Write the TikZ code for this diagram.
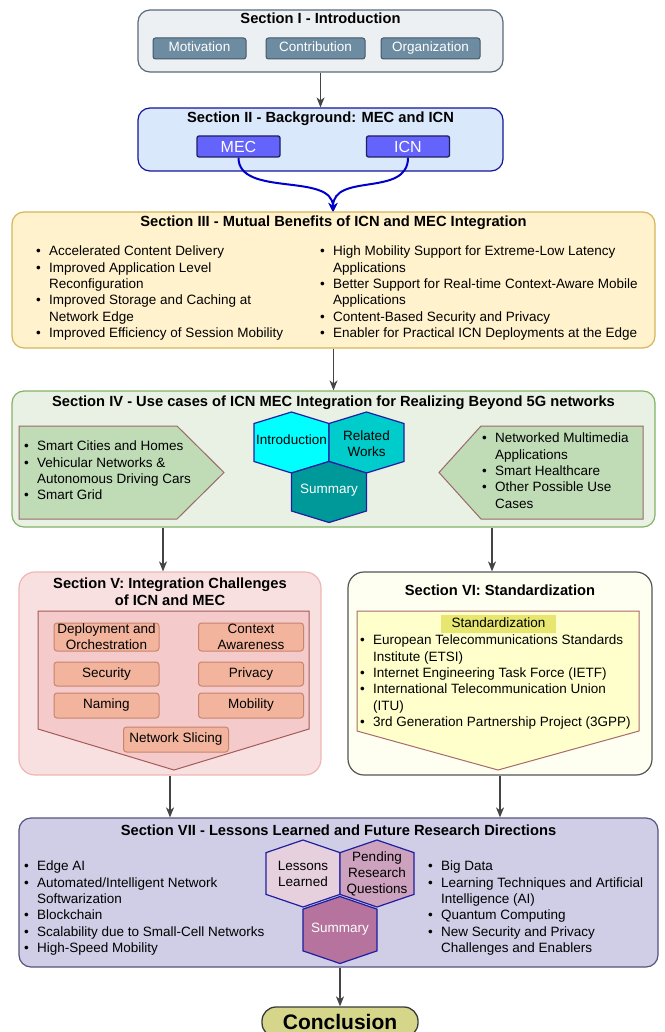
\documentclass[tikz,border=0pt]{standalone}
\usepackage{fontspec}
\setmainfont{Liberation Sans}
\usetikzlibrary{arrows.meta,positioning}

\definecolor{introfill}{HTML}{EDF0F3}
\definecolor{introline}{HTML}{596A7B}
\definecolor{subfill}{HTML}{6D8CA1}
\definecolor{subline}{HTML}{43586A}
\definecolor{bgfill}{HTML}{DAE8FC}
\definecolor{bgline}{HTML}{14149A}
\definecolor{techfill}{HTML}{6464FC}
\definecolor{techline}{HTML}{202060}
\definecolor{benfill}{HTML}{FFF2CC}
\definecolor{benline}{HTML}{D6B656}
\definecolor{usefill}{HTML}{E8F1E3}
\definecolor{useline}{HTML}{82B366}
\definecolor{pentgreen}{HTML}{C0DCB6}
\definecolor{pentline}{HTML}{9A6A6A}
\definecolor{cyanA}{HTML}{00FFFF}
\definecolor{cyanB}{HTML}{00CCCC}
\definecolor{cyanC}{HTML}{009999}
\definecolor{hexline}{HTML}{1F1FA0}
\definecolor{chalfill}{HTML}{F9E0E0}
\definecolor{challine}{HTML}{F0B6B6}
\definecolor{chalinner}{HTML}{F5CACA}
\definecolor{chalinline}{HTML}{A55A5A}
\definecolor{chalsub}{HTML}{F3B49E}
\definecolor{chalsubline}{HTML}{C7846F}
\definecolor{stdfill}{HTML}{FEFEF1}
\definecolor{stdline}{HTML}{555555}
\definecolor{stdinner}{HTML}{FFFFCC}
\definecolor{stdinline}{HTML}{A86A6A}
\definecolor{stdlabel}{HTML}{E6E670}
\definecolor{lesfill}{HTML}{D0CEE6}
\definecolor{lesline}{HTML}{57527F}
\definecolor{hexPa}{HTML}{E6D0DE}
\definecolor{hexPb}{HTML}{CDA2BE}
\definecolor{hexPc}{HTML}{B5739D}
\definecolor{conclfill}{HTML}{D6D68A}
\definecolor{conclline}{HTML}{3A3A3A}
\definecolor{arrowgray}{HTML}{444444}
\definecolor{curveblue}{HTML}{0000CC}

\newcommand{\bitem}{\makebox[13pt][l]{\textbullet}}
\newcommand{\bcont}{\hspace*{13pt}}

\begin{document}
\begin{tikzpicture}[x=1pt,y=-1pt,font=\fontsize{13.5}{16.3}\selectfont]
	\tikzset{
		secbox/.style={draw,rounded corners=12pt,line width=1.2pt,inner sep=0pt},
		sectitle/.style={font=\bfseries\fontsize{14.7}{17}\selectfont,inner sep=0pt,anchor=base},
		subbox/.style={draw,rounded corners=2.5pt,line width=1pt,inner sep=0pt,text height=9.7pt,text depth=2.8pt},
		introsub/.style={subbox,fill=subfill,draw=subline,text=white,minimum height=21pt},
		techbox/.style={draw=techline,fill=techfill,line width=1.3pt,rounded corners=2pt,inner sep=0pt,minimum width=83pt,minimum height=21pt,text=white,font=\fontsize{16}{18}\selectfont,text height=11.5pt,text depth=0pt},
		chalbox/.style={draw=chalsubline,fill=chalsub,line width=1pt,rounded corners=3pt,inner sep=0pt,align=center,minimum width=105pt},
		blist/.style={anchor=north west,inner sep=0pt,align=left},
		hextext/.style={inner sep=0pt,align=center},
		hexdraw/.style={draw=hexline,line width=1.2pt},
		pent/.style={line width=1pt},
		arr/.style={color=arrowgray,line width=1.5pt,-{Stealth[length=10pt,width=8pt,inset=3pt]}},
		blueline/.style={draw=curveblue,line width=2pt,-{Stealth[length=9pt,width=9pt,inset=3pt]}},
		hexa/.pic={\path[pic actions] (0,-30.5) -- (37.5,-19) -- (37.5,19) -- (0,30.5) -- (-37.5,19) -- (-37.5,-19) -- cycle;}
	}
	\useasboundingbox (0,0) rectangle (664,1032);

	\node[secbox,fill=introfill,draw=introline,minimum width=365pt,minimum height=62pt] (secI) at (320.5,41) {};
	\node[sectitle] (titleI) at (320.5,23.8) {Section I - Introduction};
	\node[introsub,minimum width=93pt] (motiv) at (199.5,48.5) {Motivation};
	\node[introsub,minimum width=99pt] (contrib) at (315.5,48.5) {Contribution};
	\node[introsub,minimum width=99pt] (organ) at (430.5,48.5) {Organization};

	\node[secbox,fill=bgfill,draw=bgline,minimum width=365pt,minimum height=63pt] (secII) at (320.5,139.5) {};
	\node[sectitle] (titleII) at (320.5,122.8) {Section II - Background: MEC and ICN};
	\node[techbox] (mec) at (238.5,146.5) {MEC};
	\node[techbox] (icn) at (408,146.5) {ICN};
	\coordinate (merge) at (333,212);
	\draw[blueline] (mec.south) .. controls +(0,40) and +(0,-40) .. (merge);
	\draw[blueline] (icn.south) .. controls +(0,40) and +(0,-40) .. (merge);

	\node[secbox,fill=benfill,draw=benline,minimum width=643pt,minimum height=136pt] (secIII) at (333.5,280) {};
	\node[sectitle] (titleIII) at (333.5,226.8) {Section III - Mutual Benefits of ICN and MEC Integration};
	\node[blist] (benL) at (36,246) {\bitem Accelerated Content Delivery\\
		\bitem Improved Application Level\\
		\bcont Reconfiguration\\
		\bitem Improved Storage and Caching at\\
		\bcont Network Edge\\
		\bitem Improved Efficiency of Session Mobility};
	\node[blist] (benR) at (320,246) {\bitem High Mobility Support for Extreme-Low Latency\\
		\bcont Applications\\
		\bitem Better Support for Real-time Context-Aware Mobile\\
		\bcont Applications\\
		\bitem Content-Based Security and Privacy\\
		\bitem Enabler for Practical ICN Deployments at the Edge};

	\node[secbox,fill=usefill,draw=useline,minimum width=643pt,minimum height=136pt] (secIV) at (333.5,459) {};
	\node[sectitle] (titleIV) at (333.5,406.8) {Section IV - Use cases of ICN MEC Integration for Realizing Beyond 5G networks};
	\draw[pent,fill=pentgreen,draw=pentline] (19,426) -- (177,426) -- (224,472.5) -- (177,519) -- (19,519) -- cycle;
	\draw[pent,fill=pentgreen,draw=pentline] (643,426) -- (481,426) -- (439,472.5) -- (481,519) -- (643,519) -- cycle;
	\node[blist] (useL) at (24,441) {\bitem Smart Cities and Homes\\
		\bitem Vehicular Networks \&\\
		\bcont Autonomous Driving Cars\\
		\bitem Smart Grid};
	\node[blist] (useR) at (482,433) {\bitem Networked Multimedia\\
		\bcont Applications\\
		\bitem Smart Healthcare\\
		\bitem Other Possible Use\\
		\bcont Cases};
	\pic[hexdraw,fill=cyanA] at (291.5,442.5) {hexa};
	\pic[hexdraw,fill=cyanB] at (366.5,442.5) {hexa};
	\pic[hexdraw,fill=cyanC] at (329,492) {hexa};
	\node[hextext] (intro) at (291.5,440) {Introduction};
	\node[hextext] (related) at (366.5,443.5) {Related\\Works};
	\node[hextext,text=white] (summIV) at (329,490) {Summary};

	\node[secbox,rounded corners=16pt,fill=chalfill,draw=challine,minimum width=302pt,minimum height=203pt] (secV) at (170,673.5) {};
	\node[sectitle,anchor=north,align=center] (titleV) at (170,578) {Section V: Integration Challenges\\of ICN and MEC};
	\draw[pent,fill=chalinner,draw=chalinline] (38,611) -- (309,611) -- (309,729) -- (174,770) -- (38,729) -- cycle;
	\node[chalbox,minimum height=28pt] (deploy) at (106.5,637) {Deployment and\\Orchestration};
	\node[chalbox,minimum height=28pt] (context) at (251,637) {Context\\Awareness};
	\node[chalbox,minimum height=24pt,text height=9.7pt,text depth=2.8pt] (secur) at (106.5,674) {Security};
	\node[chalbox,minimum height=24pt,text height=9.7pt,text depth=2.8pt] (priv) at (251,674) {Privacy};
	\node[chalbox,minimum height=25pt,text height=9.7pt,text depth=2.8pt] (naming) at (106.5,705.5) {Naming};
	\node[chalbox,minimum height=25pt,text height=9.7pt,text depth=2.8pt] (mobil) at (251,705.5) {Mobility};
	\node[chalbox,minimum height=25pt,text height=9.7pt,text depth=2.8pt] (slicing) at (176,739.5) {Network Slicing};

	\node[secbox,rounded corners=16pt,fill=stdfill,draw=stdline,minimum width=304pt,minimum height=203pt] (secVI) at (500,673.5) {};
	\node[sectitle] (titleVI) at (500,595.8) {Section VI: Standardization};
	\draw[pent,fill=stdinner,draw=stdinline] (357,611) -- (639,611) -- (639,731) -- (498,770) -- (357,731) -- cycle;
	\node[fill=stdlabel,inner sep=0pt,minimum width=115pt,minimum height=18pt,text height=9.7pt,text depth=2.8pt] (stdlab) at (498.5,624) {Standardization};
	\node[blist] (stdlist) at (360,635) {\bitem European Telecommunications Standards\\
		\bcont Institute (ETSI)\\
		\bitem Internet Engineering Task Force (IETF)\\
		\bitem International Telecommunication Union\\
		\bcont (ITU)\\
		\bitem 3rd Generation Partnership Project (3GPP)};

	\node[secbox,fill=lesfill,draw=lesline,minimum width=639pt,minimum height=149pt] (secVII) at (338.5,892.5) {};
	\node[sectitle] (titleVII) at (338.5,835.8) {Section VII - Lessons Learned and Future Research Directions};
	\node[blist] (lesL) at (24,861) {\bitem Edge AI\\
		\bitem Automated/Intelligent Network\\
		\bcont Softwarization\\
		\bitem Blockchain\\
		\bitem Scalability due to Small-Cell Networks\\
		\bitem High-Speed Mobility};
	\node[blist] (lesR) at (428,861) {\bitem Big Data\\
		\bitem Learning Techniques and Artificial\\
		\bcont Intelligence (AI)\\
		\bitem Quantum Computing\\
		\bitem New Security and Privacy\\
		\bcont Challenges and Enablers};
	\pic[hexdraw,fill=hexPa,xscale=0.987,yscale=1.098] at (303,873.5) {hexa};
	\pic[hexdraw,fill=hexPb,xscale=0.987,yscale=1.098] at (377,873.5) {hexa};
	\pic[hexdraw,fill=hexPc,xscale=0.987,yscale=1.098] at (340,930) {hexa};
	\node[hextext] (lessons) at (303,874) {Lessons\\Learned};
	\node[hextext] (pending) at (377,874) {Pending\\Research\\Questions};
	\node[hextext,text=white] (summVII) at (340,929) {Summary};

	\node[draw=conclline,fill=conclfill,line width=1.3pt,rounded corners=14pt,minimum width=156pt,minimum height=30pt,inner sep=0pt,font=\bfseries\fontsize{21}{24}\selectfont] (concl) at (340,1022) {Conclusion};

	\coordinate (downL) at (163,0);
	\coordinate (downR) at (492,0);
	\path[arr] (secI) edge (secII)
		(secIII) edge (secIV)
		(secIV.south -| downL) edge (secV.north -| downL)
		(secIV.south -| downR) edge (secVI.north -| downR)
		(secV.south) edge (secV.south |- secVII.north)
		(secVI.south) edge (secVI.south |- secVII.north)
		(secVII.south -| concl.north) edge (concl.north);
\end{tikzpicture}
\end{document}
